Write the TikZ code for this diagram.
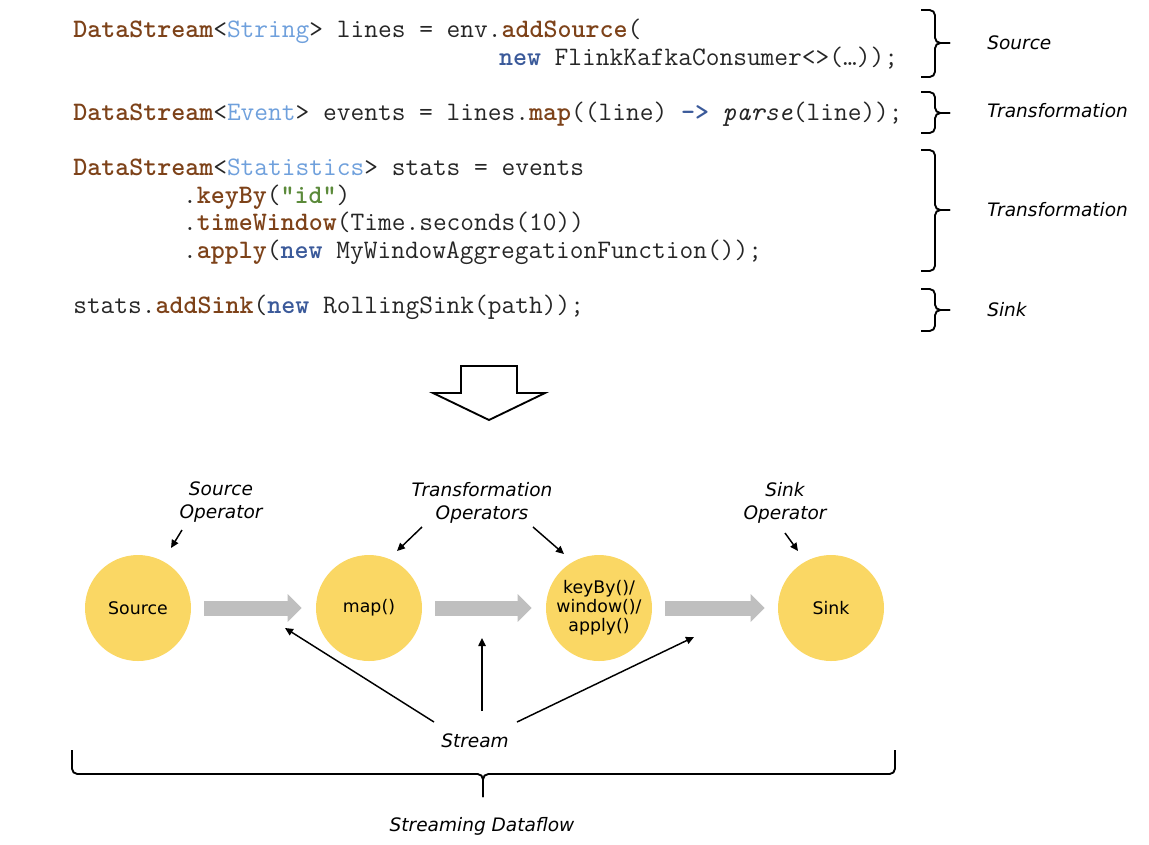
\documentclass[tikz,border=0pt]{standalone}
\usepackage{fontspec}
\usetikzlibrary{arrows.meta,calc}
\newfontfamily\labfont{DejaVu Sans}
\definecolor{kwc}{HTML}{7D4219}
\definecolor{tyc}{HTML}{6FA0DC}
\definecolor{nwc}{HTML}{3B5A9A}
\definecolor{stc}{HTML}{5B8A3A}
\definecolor{opc}{HTML}{FAD764}
\definecolor{flc}{HTML}{BFBFBF}
\newcommand\kw[1]{\textcolor{kwc}{\bfseries #1}}
\newcommand\ty[1]{\textcolor{tyc}{#1}}
\newcommand\nw[1]{\textcolor{nwc}{\bfseries #1}}
\newcommand\st[1]{\textcolor{stc}{\bfseries #1}}
\newcommand\cols[1]{\hspace*{#1\fontcharwd\font`x}}
\begin{document}
\begin{tikzpicture}[x=0.75pt,y=-0.75pt,
  codeline/.style={anchor=base west,inner sep=0pt,font=\ttfamily\fontsize{20}{22}\selectfont,text=black!85},
  lab/.style={font=\labfont\itshape\fontsize{13.9}{17.25}\selectfont,align=center,inner sep=0pt},
  sidelab/.style={lab,anchor=west},
  op/.style={circle,fill=opc,minimum size=79.5pt,inner sep=0pt,align=center,font=\labfont\fontsize{13}{14.25}\selectfont},
  flow/.style={draw=flc,line width=11.25pt,-{Triangle[length=10.5pt,width=20.25pt]}},
  arr/.style={draw=black,line width=1.1pt,-{Triangle[length=6pt,width=5.5pt]}},
  brc/.style={draw=black,line width=1.4pt,rounded corners=4pt},
  bigarrow/.style={draw=black,line width=1.4pt,fill=white}]
\useasboundingbox (0,0) rectangle (1149,844);

% code
\node[codeline] (l1) at (73,37) {\kw{DataStream}<\ty{String}> lines = env.\kw{addSource}(};
\node[codeline] (l2) at (73,65) {\cols{31}\nw{new} FlinkKafkaConsumer<>(…));};
\node[codeline] (l3) at (73,120) {\kw{DataStream}<\ty{Event}> events = lines.\kw{map}((line) \nw{->} \textit{parse}(line));};
\node[codeline] (l4) at (73,175) {\kw{DataStream}<\ty{Statistics}> stats = events};
\node[codeline] (l5) at (73,203) {\cols{8}.\kw{keyBy}(\st{"id"})};
\node[codeline] (l6) at (73,230.5) {\cols{8}.\kw{timeWindow}(Time.seconds(10))};
\node[codeline] (l7) at (73,258) {\cols{8}.\kw{apply}(\nw{new} MyWindowAggregationFunction());};
\node[codeline] (l8) at (73,313) {stats.\kw{addSink}(\nw{new} RollingSink(path));};

% right braces
\draw[brc] (921,10) -- (935,10) -- (935,43) -- (950,43);
\draw[brc] (921,77) -- (935,77) -- (935,43) -- (950,43);
\draw[brc] (921,92) -- (935,92) -- (935,113) -- (950,113);
\draw[brc] (921,133) -- (935,133) -- (935,113) -- (950,113);
\draw[brc] (921,150) -- (935,150) -- (935,210) -- (950,210);
\draw[brc] (921,271) -- (935,271) -- (935,210) -- (950,210);
\draw[brc] (921,289) -- (935,289) -- (935,310) -- (950,310);
\draw[brc] (921,331) -- (935,331) -- (935,310) -- (950,310);
\node[sidelab] (bsrc) at (987,43) {Source};
\node[sidelab] (btr1) at (987,111) {Transformation};
\node[sidelab] (btr2) at (987,210) {Transformation};
\node[sidelab] (bsnk) at (987,310) {Sink};

% hollow arrow
\draw[bigarrow] (461,393) -- (461,366) -- (517,366) -- (517,393) -- (545,393) -- (489,420) -- (433,393) -- cycle;

% operators
\node[op] (src) at (138,608) {Source};
\node[op] (map) at (369,608) {map()};
\node[op] (win) at (599,608) {keyBy()/\\window()/\\apply()};
\node[op] (snk) at (831,608) {Sink};

\draw[flow] ($(src.east)+(13,0)$) -- ($(map.west)+(-14,0)$);
\draw[flow] ($(map.east)+(13,0)$) -- ($(win.west)+(-14,0)$);
\draw[flow] ($(win.east)+(13,0)$) -- ($(snk.west)+(-13,0)$);

% operator labels
\node[lab] (srclab) at (221,502.5) {Source\\Operator};
\node[lab] (trlab) at (482,502.5) {Transformation\\Operators};
\node[lab] (snklab) at (785,502.5) {Sink\\Operator};

\coordinate (a1s) at (182,530); \coordinate (a1e) at (171,548);
\coordinate (a2s) at (422,527); \coordinate (a2e) at (397,551);
\coordinate (a3s) at (533,527); \coordinate (a3e) at (564,554);
\coordinate (a4s) at (785,533); \coordinate (a4e) at (798,551);
\draw[arr] (a1s) -- (a1e);
\draw[arr] (a2s) -- (a2e);
\draw[arr] (a3s) -- (a3e);
\draw[arr] (a4s) -- (a4e);

% stream
\node[lab] (stream) at (475,741) {Stream};
\coordinate (s1s) at (434,722); \coordinate (s1e) at (285,628);
\coordinate (s2s) at (482,711); \coordinate (s2e) at (482,638);
\coordinate (s3s) at (517,722); \coordinate (s3e) at (694,637);
\draw[arr] (s1s) -- (s1e);
\draw[arr] (s2s) -- (s2e);
\draw[arr] (s3s) -- (s3e);

% bottom brace
\draw[brc] (72,750) -- (72,774) -- (483,774) -- (483,797);
\draw[brc] (895,750) -- (895,774) -- (483,774) -- (483,797);
\node[lab] (sdf) at (482,826) {Streaming Dataflow};
\end{tikzpicture}
\end{document}
